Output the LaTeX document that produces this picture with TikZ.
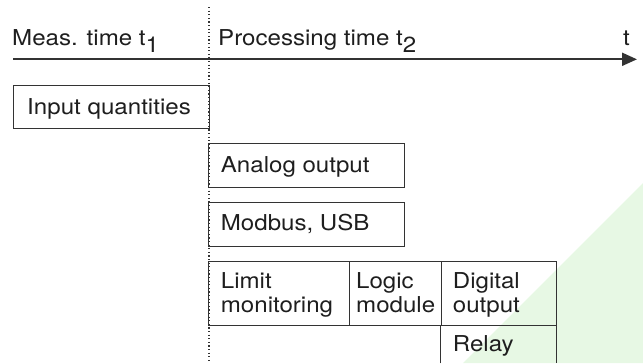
\documentclass[tikz,border=0pt]{standalone}
\usepackage{fontspec}
\setmainfont{TeX Gyre Heros}[FakeStretch=1.1]
\usetikzlibrary{arrows.meta}
\definecolor{edge}{HTML}{333333}
\definecolor{txt}{HTML}{1E1E1E}
\definecolor{greenbg}{HTML}{E7F8E4}
\newcommand\lowsub[1]{\raisebox{-7.5bp}{#1}}
\begin{document}
\begin{tikzpicture}[x=1bp,y=-1bp,
  every node/.style={font=\fontsize{21.9bp}{23.4bp}\selectfont, text=txt, inner sep=0},
  box/.style={draw=edge, line width=1bp, rectangle, inner sep=0, anchor=north west},
  openbox/.style={rectangle, inner sep=0, anchor=north west},
  lbl/.style={anchor=base west, align=left}]
\useasboundingbox (0,0) rectangle (643,363);
\fill[greenbg] (463,363) -- (643,183) -- (643,363) -- cycle;
% time axis
\coordinate (axs) at (13,59.3);
\coordinate (axe) at (637,59.3);
\draw[edge, line width=2bp, -{Triangle[length=15bp,width=13bp]}] (axs) -- (axe);
% boxes
\node[box, minimum width=196bp, minimum height=43.3bp] (inq) at (13,85) {};
\node[box, minimum width=195.7bp, minimum height=43.4bp] (ana) at (208.3,143.3) {};
\node[box, minimum width=195.7bp, minimum height=43.8bp] (mod) at (208.3,201.7) {};
\node[box, minimum width=141bp, minimum height=64.3bp] (lim) at (208.3,261) {};
\node[box, minimum width=91.4bp, minimum height=64.3bp] (log) at (349.3,261) {};
\node[box, minimum width=115bp, minimum height=64.3bp] (dig) at (440.7,261) {};
\node[openbox, minimum width=115bp, minimum height=37.7bp] (rel) at (440.7,325.3) {};
\draw[edge, line width=1bp] (rel.south west) -- (rel.north west) -- (rel.north east) -- (rel.south east);
% dotted separator
\coordinate (dtop) at (209,7);
\coordinate (dbot) at (209,363);
\draw[edge, line width=1.2bp, dash pattern=on 1.2bp off 2.4bp] (dtop) -- (dbot);
% texts
\node[lbl] (meas) at (12,45) {Meas. time t\lowsub{1}};
\node[lbl] (proc) at (218,45) {Processing time t\lowsub{2}};
\node[lbl] (tl) at (623,45.7) {t};
\node[lbl] (inqt) at (27,114) {Input quantities};
\node[lbl] (anat) at (220.7,172.3) {Analog output};
\node[lbl] (modt) at (220.7,230) {Modbus, USB};
\node[lbl] (limt) at (220.7,312.2) {Limit\\monitoring};
\node[lbl] (logt) at (356,312.2) {Logic\\module};
\node[lbl] (digt) at (452.7,312.2) {Digital\\output};
\node[lbl] (relt) at (452.7,351.7) {Relay};
\end{tikzpicture}
\end{document}
